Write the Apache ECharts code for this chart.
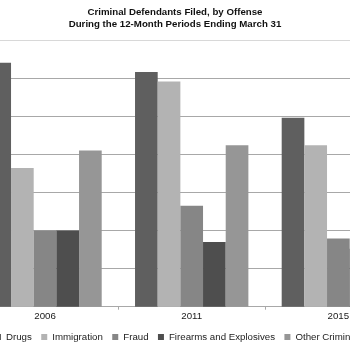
<!DOCTYPE html>
<html>
<head>
<meta charset="utf-8">
<script src="https://cdn.jsdelivr.net/npm/echarts@6/dist/echarts.min.js"></script>
<style>
html,body{margin:0;padding:0;width:350px;height:350px;overflow:hidden;background:#fff;position:relative;}
#chart{position:absolute;left:-100px;top:0;width:550px;height:350px;}
</style>
</head>
<body>
<div id="chart"></div>
<script>
var categories = ['2006', '2011', '2015'];
var seriesNames = ['Drugs', 'Immigration', 'Fraud', 'Firearms and Explosives', 'Other Criminal Cases'];
var drugs = [32000, 30800, 24800];
var immigration = [18200, 29550, 21200];
var fraud = [10000, 13250, 8950];
var firearms = [10000, 8500, 7600];
var otherCriminal = [20500, 21200, 19800];
var seriesColors = ['#5f5f5f', '#b3b3b3', '#868686', '#4e4e4e', '#969696'];

var values = [drugs, immigration, fraud, firearms, otherCriminal];
var FONT = '"Liberation Sans", Arial, sans-serif';
var chart = echarts.init(document.getElementById('chart'), null, {renderer: 'canvas'});
var series = seriesNames.map(function (name, i) {
  return {
    name: name,
    type: 'bar',
    data: values[i],
    barWidth: 22.67,
    barGap: '0%',
    itemStyle: {color: seriesColors[i]},
    animation: false
  };
});
chart.setOption({
  animation: false,
  backgroundColor: '#fff',
  title: {
    text: 'Criminal Defendants Filed, by Offense\nDuring the 12-Month Periods Ending March 31',
    left: 'center',
    top: 6,
    padding: 0,
    textStyle: {fontFamily: FONT, fontSize: 9.7, fontWeight: 'bold', color: '#111', lineHeight: 12}
  },
  legend: {
    data: seriesNames,
    left: 95,
    top: 332,
    padding: 0,
    itemWidth: 6,
    itemHeight: 6,
    itemGap: 9.4,
    icon: 'rect',
    textStyle: {fontFamily: FONT, fontSize: 9.7, color: '#222'}
  },
  grid: {left: 71.7, right: 38.3, top: 40, bottom: 43.3, containLabel: false},
  xAxis: {
    type: 'category',
    data: categories,
    axisLine: {lineStyle: {color: '#a8a8a8', width: 1}},
    axisTick: {show: true, length: 3, lineStyle: {color: '#a8a8a8'}},
    axisLabel: {fontFamily: FONT, fontSize: 9.7, color: '#1a1a1a', margin: 5},
    splitLine: {show: false}
  },
  yAxis: {
    type: 'value',
    min: 0,
    max: 35000,
    interval: 5000,
    axisLine: {show: false},
    axisTick: {show: false},
    axisLabel: {fontFamily: FONT, fontSize: 9.7, color: '#222'},
    splitLine: {show: true, lineStyle: {color: ['#a8a8a8','#a8a8a8','#a8a8a8','#a8a8a8','#a8a8a8','#a8a8a8','#a8a8a8','#d8d8d8'], width: 1}}
  },
  series: series
});
</script>
</body>
</html>
